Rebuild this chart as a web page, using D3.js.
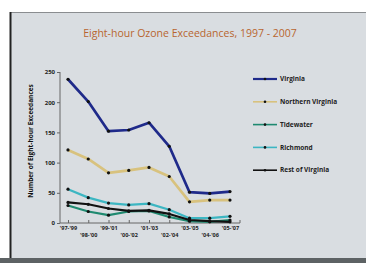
<!DOCTYPE html>
<html>
<head>
<meta charset="utf-8">
<script src="https://cdn.jsdelivr.net/npm/d3@7"></script>
<style>
  body { margin: 0; background: #fff; }
  svg { display: block; }
</style>
</head>
<body>
<div id="chart"></div>
<script>
// data
var periods = ["'97-'99", "'98-'00", "'99-'01", "'00-'02", "'01-'03", "'02-'04", "'03-'05", "'04-'06", "'05-'07"];
var virginia = [238, 201, 152, 154, 166, 127, 51, 49, 52];
var northernVirginia = [121, 106, 83, 87, 92, 77, 35, 38, 38];
var tidewater = [29, 19, 13, 19, 20, 10, 3, 2, 5];
var richmond = [56, 42, 33, 30, 32, 22, 8, 8, 11];
var restOfVirginia = [34, 31, 24, 20, 21, 15, 5, 3, 2];
var yTicks = [0, 50, 100, 150, 200, 250];

var series = [
  {name: "Virginia", values: virginia, color: "#1f2a8a"},
  {name: "Northern Virginia", values: northernVirginia, color: "#d8c27e"},
  {name: "Tidewater", values: tidewater, color: "#1f8a70"},
  {name: "Richmond", values: richmond, color: "#3cb6c2"},
  {name: "Rest of Virginia", values: restOfVirginia, color: "#111"}
];

var width = 366,
  height = 263;

var svg = d3.select("#chart").append("svg")
  .attr("width", width)
  .attr("height", height);

// card background
svg.append("rect")
  .attr("x", 10).attr("y", 12)
  .attr("width", width - 10).attr("height", 246)
  .attr("fill", "#d9dde1");
svg.append("line")
  .attr("x1", 10).attr("x2", width).attr("y1", 12.5).attr("y2", 12.5)
  .attr("stroke", "#8a8d90").attr("stroke-width", 1);
svg.append("line")
  .attr("x1", 10.5).attr("x2", 10.5).attr("y1", 12).attr("y2", 258)
  .attr("stroke", "#222").attr("stroke-width", 2);
svg.append("rect")
  .attr("x", 0).attr("y", 258)
  .attr("width", width).attr("height", 5)
  .attr("fill", "#5d6264");

// title
svg.append("text")
  .attr("x", 190).attr("y", 37)
  .attr("text-anchor", "middle")
  .attr("fill", "#b8652f")
  .style("font-family", "'Open Sans', sans-serif")
  .style("font-size", "10.5px")
  .text("Eight-hour Ozone Exceedances, 1997 - 2007");

// scales
var x = d3.scalePoint()
  .domain(periods)
  .range([68, 230]);

var y = d3.scaleLinear()
  .domain([0, 250])
  .range([223, 72]);

// y axis
var yAxis = svg.append("g")
  .attr("transform", "translate(60,0)")
  .call(d3.axisLeft(y).tickValues(yTicks).tickSize(3).tickPadding(2));
yAxis.select(".domain").attr("stroke", "#666").attr("d", "M0," + y(250) + "V" + y(0));
yAxis.selectAll(".tick line").attr("stroke", "#666");
yAxis.selectAll("text")
  .attr("fill", "#222")
  .style("font-family", "'Open Sans', sans-serif")
  .style("font-size", "6px")
  .style("font-weight", "bold");

// x axis
var xAxis = svg.append("g")
  .attr("transform", "translate(0,223)")
  .call(d3.axisBottom(x).tickSize(-3).tickSizeOuter(0).tickPadding(3));
xAxis.select(".domain").attr("stroke", "#666").attr("d", "M60,0H240");
xAxis.selectAll(".tick line").attr("stroke", "#666");
xAxis.selectAll("text")
  .attr("fill", "#222")
  .attr("dy", function(d, i) { return i % 2 == 0 ? "0.71em" : "1.95em"; })
  .style("font-family", "'Open Sans', sans-serif")
  .style("font-size", "5.5px")
  .style("font-weight", "bold");
xAxis.append("line")
  .attr("x1", 240).attr("x2", 240).attr("y1", 0).attr("y2", -3)
  .attr("stroke", "#666");

// y axis title
svg.append("text")
  .attr("transform", "translate(33,141) rotate(-90)")
  .attr("text-anchor", "middle")
  .attr("fill", "#111")
  .style("font-family", "'Open Sans', sans-serif")
  .style("font-size", "6.5px")
  .style("font-weight", "bold")
  .text("Number of Eight-hour Exceedances");

// lines
var line = d3.line()
  .x(function(d, i) { return x(periods[i]); })
  .y(function(d) { return y(d); });

var drawOrder = [series[1], series[3], series[2], series[4], series[0]];

drawOrder.forEach(function(s) {
  svg.append("path")
    .datum(s.values)
    .attr("fill", "none")
    .attr("stroke", s.color)
    .attr("stroke-width", s.name == "Virginia" || s.name == "Northern Virginia" ? 2.7 : 2.2)
    .attr("stroke-linejoin", "round")
    .attr("d", line);

  svg.selectAll(null)
    .data(s.values).enter()
    .append("circle")
    .attr("cx", function(d, i) { return x(periods[i]); })
    .attr("cy", function(d) { return y(d); })
    .attr("r", 1.6)
    .attr("fill", "#111");
});

// legend
var legend = svg.selectAll(".legend")
  .data(series).enter()
  .append("g")
  .attr("transform", function(d, i) { return "translate(253," + (79 + i * 22.8) + ")"; });

legend.append("line")
  .attr("x1", 0).attr("x2", 24)
  .attr("stroke", function(d) { return d.color; })
  .attr("stroke-width", function(d) { return d.name == "Virginia" ? 2.2 : 1.6; });

legend.append("circle")
  .attr("cx", 12).attr("r", 1.3)
  .attr("fill", "#111");

legend.append("text")
  .attr("x", 27).attr("dy", "0.35em")
  .attr("fill", "#222")
  .style("font-family", "'Open Sans', sans-serif")
  .style("font-size", "6.5px")
  .style("font-weight", "bold")
  .text(function(d) { return d.name; });
</script>
</body>
</html>
